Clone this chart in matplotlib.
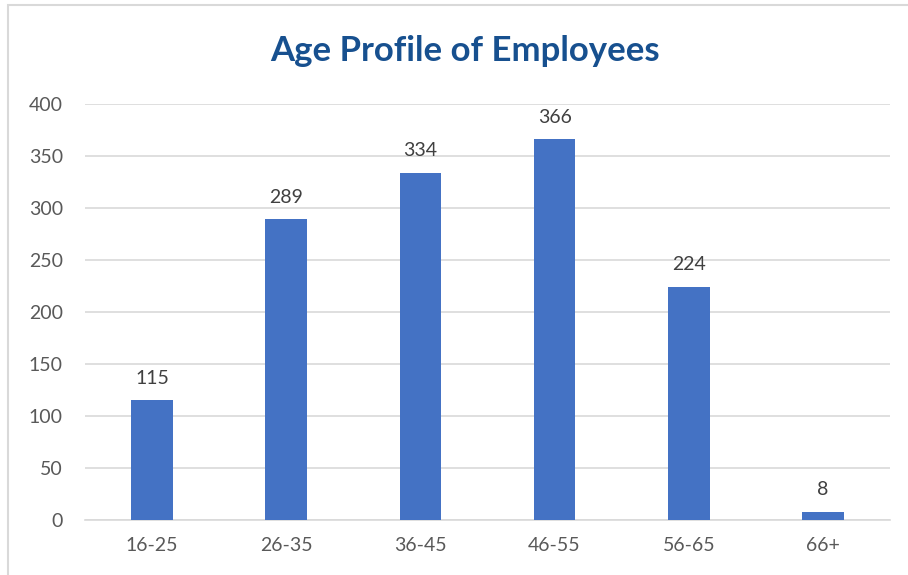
import matplotlib.pyplot as plt
from matplotlib.patches import Rectangle

categories = ["16-25", "26-35", "36-45", "46-55", "56-65", "66+"]
employees = [115, 289, 334, 366, 224, 8]
y_ticks = [0, 50, 100, 150, 200, 250, 300, 350, 400]

plt.rcParams['font.family'] = ['Lato', 'DejaVu Sans']

fig = plt.figure(figsize=(9.08, 5.75), dpi=100)
ax = fig.add_axes([0.0936, 0.0957, 0.8866, 0.7235])

x = range(len(categories))
bars = ax.bar(x, employees, width=0.31, color="#4472C4", zorder=3)

for xi, v in zip(x, employees):
    ax.text(xi, v + 13, str(v), ha="center", va="bottom", fontsize=14, color="#404040")

ax.set_xlim(-0.5, len(categories) - 0.5)
ax.set_ylim(0, 400)
ax.set_yticks(y_ticks)
ax.set_xticks(list(x))
ax.set_xticklabels(categories)
ax.tick_params(axis="both", length=0, labelsize=14, labelcolor="#595959")
ax.tick_params(axis="y", pad=16)
ax.tick_params(axis="x", pad=12)
ax.grid(axis="y", color="#D9D9D9", linewidth=1.2, zorder=0)
for s in ["top", "right", "left"]:
    ax.spines[s].set_visible(False)
ax.spines["bottom"].set_color("#D9D9D9")
ax.spines["bottom"].set_linewidth(1.2)

fig.text(0.512, 0.911, "Age Profile of Employees", ha="center", va="center",
         fontsize=25, fontweight="bold", color="#17508F")

# thin chart border like the Excel chart area
fig.patches.append(Rectangle((8 / 908, -0.05), 1.05, 1 - 5 / 575 + 0.05,
                             transform=fig.transFigure, fill=False,
                             edgecolor="#D9D9D9", linewidth=1.5))

fig.savefig("out.png", dpi=100)
